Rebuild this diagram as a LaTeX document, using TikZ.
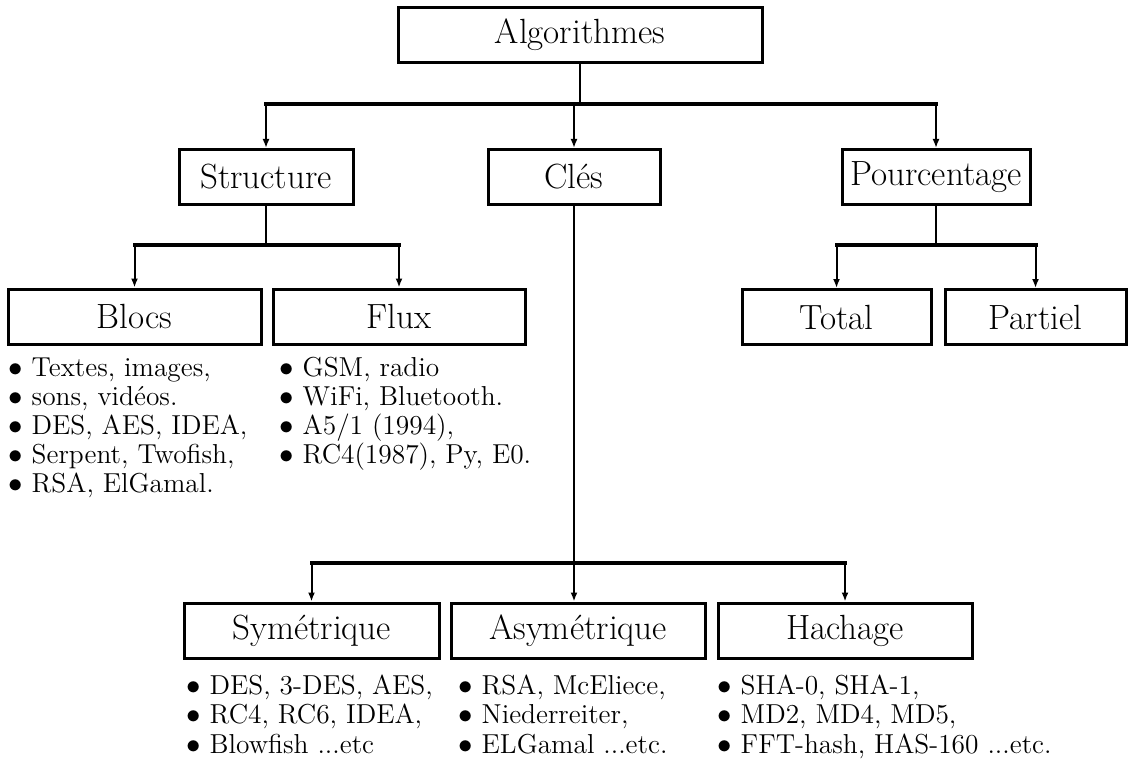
\documentclass[tikz,border=0pt]{standalone}
\usetikzlibrary{arrows.meta}
\begin{document}
\begin{tikzpicture}[x=0.5pt,y=-0.5pt,
  box/.style={draw, line width=1.5pt, inner sep=0pt, minimum height=27.5pt,
    font=\fontsize{17.5}{20}\selectfont},
  bar/.style={line width=2pt, line cap=rect},
  link/.style={line width=1pt},
  arr/.style={line width=1pt, -{Latex[length=4.5pt,width=3.5pt]}},
  item/.style={anchor=base west, inner sep=0pt, font=\fontsize{13.7}{16}\selectfont}]
\useasboundingbox (0,0) rectangle (1128,770);

% ---- boxes
\node[box, minimum width=182pt] (alg)   at (580,35)  {Algorithmes};
\node[box, minimum width=87pt]  (struct) at (266,177) {Structure};
\node[box, minimum width=86pt]  (cles)  at (574,177) {Clés};
\node[box, minimum width=94pt]  (pourc) at (936,177) {Pourcentage};

\node[box, minimum width=126.5pt] (blocs) at (134.5,316.5) {Blocs};
\node[box, minimum width=126pt]   (flux)  at (399,316.5)   {Flux};
\node[box, minimum width=94.5pt]  (total) at (836.5,317)   {Total};
\node[box, minimum width=90.5pt]  (part)  at (1035.5,317)  {Partiel};

\node[box, minimum width=127.5pt] (sym)   at (311.5,630.5) {Symétrique};
\node[box, minimum width=127pt]   (asym)  at (578,630.5)   {Asymétrique};
\node[box, minimum width=127pt]   (hach)  at (845,630.5)   {Hachage};

% ---- junction points
\coordinate (j1) at (580,104);
\coordinate (j2) at (266,245);
\coordinate (j3) at (936,245);
\coordinate (j4) at (574,563);

% ---- level 1
\draw[link] (alg.south) -- (j1);
\draw[bar] (struct.north |- j1) -- (pourc.north |- j1);
\draw[arr] (struct.north |- j1) -- (struct.north);
\draw[arr] (cles.north |- j1) -- (cles.north);
\draw[arr] (pourc.north |- j1) -- (pourc.north);

% ---- Structure
\draw[link] (struct.south) -- (j2);
\draw[bar] (blocs.north |- j2) -- (flux.north |- j2);
\draw[arr] (blocs.north |- j2) -- (blocs.north);
\draw[arr] (flux.north |- j2) -- (flux.north);

% ---- Pourcentage
\draw[link] (pourc.south) -- (j3);
\draw[bar] (total.north |- j3) -- (part.north |- j3);
\draw[arr] (total.north |- j3) -- (total.north);
\draw[arr] (part.north |- j3) -- (part.north);

% ---- Clés
\draw[link] (cles.south) -- (j4);
\draw[bar] (sym.north |- j4) -- (hach.north |- j4);
\draw[arr] (sym.north |- j4) -- (sym.north);
\draw[arr] (j4) -- (j4 |- asym.north);
\draw[arr] (hach.north |- j4) -- (hach.north);

% ---- lists under Blocs
\node[item] (b1) at (8,376) {$\bullet$ Textes, images,};
\node[item] (b2) at (8,405) {$\bullet$ sons, vidéos.};
\node[item] (b3) at (8,434) {$\bullet$ DES, AES, IDEA,};
\node[item] (b4) at (8,463) {$\bullet$ Serpent, Twofish,};
\node[item] (b5) at (8,492) {$\bullet$ RSA, ElGamal.};

% ---- lists under Flux
\node[item] (f1) at (279,376) {$\bullet$ GSM, radio};
\node[item] (f2) at (279,405) {$\bullet$ WiFi, Bluetooth.};
\node[item] (f3) at (279,434) {$\bullet$ A5/1 (1994),};
\node[item] (f4) at (279,463) {$\bullet$ RC4(1987), Py, E0.};

% ---- lists under Symétrique
\node[item] (s1) at (186,694) {$\bullet$ DES, 3-DES, AES,};
\node[item] (s2) at (186,723) {$\bullet$ RC4, RC6, IDEA,};
\node[item] (s3) at (186,753) {$\bullet$ Blowfish ...etc};

% ---- lists under Asymétrique
\node[item] (a1) at (458,694) {$\bullet$ RSA, McEliece,};
\node[item] (a2) at (458,723) {$\bullet$ Niederreiter,};
\node[item] (a3) at (458,753) {$\bullet$ ELGamal ...etc.};

% ---- lists under Hachage
\node[item] (h1) at (717,694) {$\bullet$ SHA-0, SHA-1,};
\node[item] (h2) at (717,723) {$\bullet$ MD2, MD4, MD5,};
\node[item] (h3) at (717,753) {$\bullet$ FFT-hash, HAS-160 ...etc.};
\end{tikzpicture}
\end{document}
